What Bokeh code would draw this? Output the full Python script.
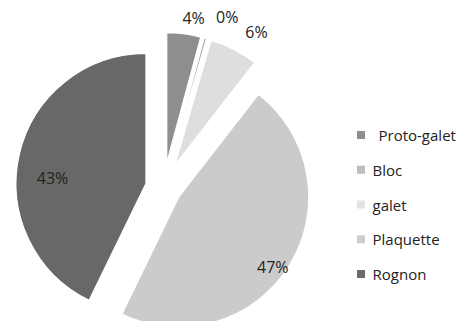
import math
from bokeh.plotting import figure
from bokeh.models import Range1d, ColumnDataSource
from bokeh.core.properties import value
from bokeh.embed import file_html
from bokeh.resources import INLINE

# ---- data ----
categories = ["Proto-galet", "Bloc", "galet", "Plaquette", "Rognon"]
shares = [4.2, 0.3, 6.0, 46.7, 42.8]
labels = ["4%", "0%", "6%", "47%", "43%"]

# ---- style ----
colors = ["#8e8e8e", "#a9a9a9", "#dedede", "#cbcbcb", "#686868"]
legend_colors = ["#8e8e8e", "#bdbdbd", "#e3e3e3", "#cdcdcd", "#6a6a6a"]
explode = [25, 25, 25, 18, 18]
label_r = [1.135, 1.21, 1.205, 0.90, 0.72]
label_shift = [2.9, 5.6, 4.4, 4.7, -9.9]
legend_indent = [6, 0, 0, 0, 0]

W, H = 458, 321


def X(px):
    return px


def Y(py):
    return H - py


p = figure(width=W, height=H, output_backend="svg", toolbar_location=None,
           x_range=Range1d(0, W), y_range=Range1d(0, H), min_border=0)
p.axis.visible = False
p.grid.visible = False
p.outline_line_color = None
p.background_fill_color = "white"
p.border_fill_color = "white"

R = 130
C0x, C0y = X(163), Y(187)
total = sum(shares)

xs, ys, starts, ends, lx, ly = [], [], [], [], [], []
cum = 0.0
for i, s in enumerate(shares):
    a = cum / total * 360.0
    b = (cum + s) / total * 360.0
    cum += s
    m = (a + b) / 2.0
    mr = math.radians(m)
    cx = C0x + explode[i] * math.sin(mr)
    cy = C0y + explode[i] * math.cos(mr)
    xs.append(cx)
    ys.append(cy)
    starts.append(math.radians(90 - b))
    ends.append(math.radians(90 - a))
    lm = math.radians(m + label_shift[i])
    lx.append(cx + label_r[i] * R * math.sin(lm))
    ly.append(cy + label_r[i] * R * math.cos(lm))

src = ColumnDataSource(dict(x=xs, y=ys, start=starts, end=ends, color=colors,
                            cat=categories, lx=lx, ly=ly, lab=labels))

p.wedge(x="x", y="y", radius=R, start_angle="start", end_angle="end",
        direction="anticlock", fill_color="color", line_color="white",
        line_width=1.2, source=src)

p.text(x="lx", y="ly", text="lab", source=src, text_align="center",
       text_baseline="middle", text_font=value("Open Sans"),
       text_font_size="16px", text_color="#222222")

# legend
lg_y = [Y(134.5 + 34.75 * i) for i in range(len(categories))]
lg_sq_x = [X(360.5)] * len(categories)
lg_tx = [X(372 + legend_indent[i]) for i in range(len(categories))]
lsrc = ColumnDataSource(dict(sx=lg_sq_x, y=lg_y, tx=lg_tx, cat=categories,
                             color=legend_colors))
p.rect(x="sx", y="y", width=8, height=8, fill_color="color", line_color=None,
       source=lsrc)
p.text(x="tx", y="y", text="cat", source=lsrc, text_align="left",
       text_baseline="middle", text_font=value("Open Sans"),
       text_font_size="15px", text_color="#222222")

open("out.html", "w").write(file_html(p, INLINE))
